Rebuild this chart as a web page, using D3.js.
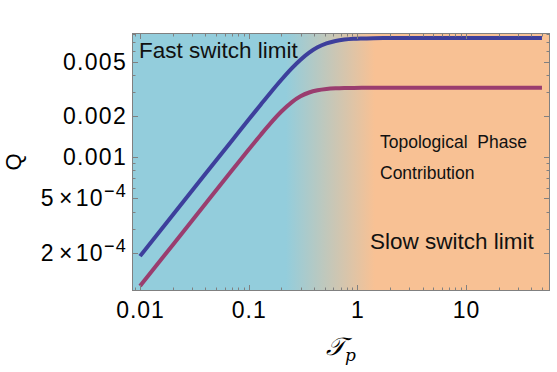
<!DOCTYPE html>
<html>
<head>
<meta charset="utf-8">
<script src="https://cdn.jsdelivr.net/npm/d3@7"></script>
<style>
  body { margin: 0; background: #fff; }
  svg { font-family: "Liberation Sans", Arial, sans-serif; }
</style>
</head>
<body>
<svg width="557" height="372"></svg>
<script>
// values
const tau = [0.01, 0.02, 0.04, 0.07, 0.1, 0.13, 0.16, 0.2, 0.25, 0.3, 0.36, 0.43, 0.52, 0.63, 0.76, 0.92, 1.1, 1.4, 1.8, 2.5, 4, 8, 20, 50]
const qFast = [1.89e-4, 3.78e-4, 7.56e-4, 1.32e-3, 1.886e-3, 2.444e-3, 2.99e-3, 3.686e-3, 4.483e-3, 5.168e-3, 5.821e-3,
  6.364e-3, 6.797e-3, 7.083e-3, 7.249e-3, 7.345e-3, 7.39e-3, 7.424e-3, 7.44e-3, 7.45e-3, 7.45e-3, 7.45e-3, 7.45e-3, 7.45e-3]
const qSlow = [1.142e-4, 2.284e-4, 4.567e-4, 7.98e-4, 1.137e-3, 1.468e-3, 1.783e-3, 2.158e-3, 2.531e-3, 2.788e-3, 2.973e-3,
  3.086e-3, 3.154e-3, 3.189e-3, 3.205e-3, 3.212e-3, 3.217e-3, 3.219e-3, 3.22e-3, 3.22e-3, 3.22e-3, 3.22e-3, 3.22e-3, 3.22e-3]

const xTicks = [0.01, 0.1, 1, 10]
const xTickLabels = ["0.01", "0.1", "1", "10"]
const yTicks = [2e-4, 5e-4, 0.001, 0.002, 0.005]
const yTickLabels = [["2", "−4"], ["5", "−4"], "0.001", "0.002", "0.005"]

const fadeFrom = 0.22, fadeTo = 1.45   // background blend region in tau

const margin = {top: 33, right: 7, bottom: 81, left: 132}
const svg = d3.select("svg")
const W = +svg.attr("width"), H = +svg.attr("height")

// log domains padded 2% like the original
function padLog(lo, hi, p) {
  const a = Math.log10(lo), b = Math.log10(hi), d = (b - a) * p
  return [Math.pow(10, a - d), Math.pow(10, b + d)]
}
const allQ = qFast.concat(qSlow)
const x = d3.scaleLog().domain(padLog(d3.min(tau), d3.max(tau), 0.02)).range([margin.left, W - margin.right])
const y = d3.scaleLog().domain(padLog(d3.min(allQ), d3.max(allQ), 0.02)).range([H - margin.bottom, margin.top])

const x0 = x.range()[0], x1 = x.range()[1], y0 = y.range()[0], y1 = y.range()[1]

// background
const grad = svg.append("defs").append("linearGradient")
  .attr("id", "bg").attr("gradientUnits", "userSpaceOnUse")
  .attr("x1", x(fadeFrom)).attr("x2", x(fadeTo)).attr("y1", 0).attr("y2", 0)
grad.append("stop").attr("offset", 0).attr("stop-color", "#93cddc")
grad.append("stop").attr("offset", 1).attr("stop-color", "#f8c194")

svg.append("rect")
  .attr("x", x0).attr("y", y1).attr("width", x1 - x0).attr("height", y0 - y1)
  .attr("fill", "url(#bg)")

// lines
const line = d3.line().x(d => x(d[0])).y(d => y(d[1])).curve(d3.curveMonotoneX)
const clip = svg.append("clipPath").attr("id", "clip")
clip.append("rect").attr("x", x0).attr("y", y1).attr("width", x1 - x0).attr("height", y0 - y1)

const plot = svg.append("g").attr("clip-path", "url(#clip)")
plot.append("path").datum(d3.zip(tau, qSlow))
  .attr("d", line).attr("fill", "none").attr("stroke", "#9a3d6f").attr("stroke-width", 4)
plot.append("path").datum(d3.zip(tau, qFast))
  .attr("d", line).attr("fill", "none").attr("stroke", "#3d3f9c").attr("stroke-width", 4)

// minor ticks: every integer multiple inside the domain
function minorTicks(scale) {
  const [lo, hi] = scale.domain()
  const out = []
  for (let e = Math.floor(Math.log10(lo)); e <= Math.ceil(Math.log10(hi)); e++) {
    for (let m = 1; m < 10; m++) {
      const v = m * Math.pow(10, e)
      if (v >= lo && v <= hi) out.push(v)
    }
  }
  return out
}

const tickColor = "#808080"
const axes = svg.append("g").attr("stroke", tickColor).attr("stroke-width", 1)

minorTicks(x).forEach(v => {
  const len = xTicks.some(t => Math.abs(t - v) < v * 1e-6) ? 6 : 3.5
  const px = Math.round(x(v)) + 0.5
  axes.append("line").attr("x1", px).attr("x2", px).attr("y1", y0).attr("y2", y0 - len)
  axes.append("line").attr("x1", px).attr("x2", px).attr("y1", y1).attr("y2", y1 + len)
})
minorTicks(y).forEach(v => {
  const len = yTicks.some(t => Math.abs(t - v) < v * 1e-6) ? 6 : 3.5
  const py = Math.round(y(v)) + 0.5
  axes.append("line").attr("x1", x0).attr("x2", x0 + len).attr("y1", py).attr("y2", py)
  axes.append("line").attr("x1", x1).attr("x2", x1 - len).attr("y1", py).attr("y2", py)
})

svg.append("rect")
  .attr("x", x0 + 0.5).attr("y", y1 + 0.5).attr("width", x1 - x0 - 1).attr("height", y0 - y1 - 1)
  .attr("fill", "none").attr("stroke", tickColor)

// tick labels
svg.append("g").selectAll("text")
  .data(xTicks)
  .join("text")
  .attr("x", d => x(d) + 0.5).attr("y", y0 + 27)
  .attr("text-anchor", "middle")
  .attr("font-size", 23).attr("letter-spacing", 1)
  .text((d, i) => xTickLabels[i])

const yl = svg.append("g").attr("font-size", 23).attr("letter-spacing", 1.3)
yTicks.forEach((v, i) => {
  const lab = yTickLabels[i]
  const t = yl.append("text").attr("x", x0 - 5).attr("y", y(v) + 8).attr("text-anchor", "end")
  if (typeof lab === "string") {
    t.text(lab)
  } else {
    t.append("tspan").text(lab[0])
    t.append("tspan").attr("dx", 4).text("×")
    t.append("tspan").attr("dx", 2).text("10")
    t.append("tspan").attr("dy", -9).attr("font-size", 18).text(lab[1])
  }
})

// axis titles
svg.append("text")
  .attr("transform", `translate(21, ${(y0 + y1) / 2}) rotate(-90)`)
  .attr("text-anchor", "middle").attr("font-size", 22)
  .text("Q")

const xt = svg.append("text")
  .attr("x", (x0 + x1) / 2).attr("y", 355)
  .attr("text-anchor", "middle")
  .attr("font-family", "DejaVu Serif, serif")
xt.append("tspan").attr("font-size", 25).attr("font-style", "italic").text("𝒯")
xt.append("tspan").attr("font-size", 17).attr("font-style", "italic").attr("dy", 6).text("p")

// annotations
const notes = svg.append("g").attr("fill", "#111")
notes.append("text").attr("x", 139).attr("y", 58).attr("font-size", 22.5).text("Fast switch limit")
notes.append("text").attr("x", 380).attr("y", 148).attr("font-size", 17.5).attr("xml:space", "preserve").text("Topological  Phase")
notes.append("text").attr("x", 380).attr("y", 179).attr("font-size", 17.5).text("Contribution")
notes.append("text").attr("x", 370).attr("y", 249).attr("font-size", 22.5).text("Slow switch limit")
</script>
</body>
</html>
